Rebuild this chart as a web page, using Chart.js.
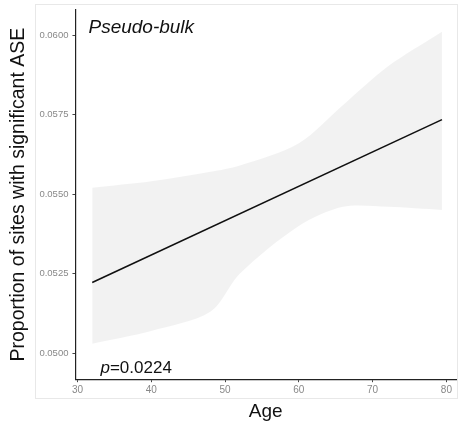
<!DOCTYPE html>
<html>
<head>
<meta charset="utf-8">
<script src="https://cdn.jsdelivr.net/npm/chart.js@4.4.1/dist/chart.umd.min.js"></script>
<style>
  html, body { margin: 0; padding: 0; background: #fff; }
  #wrap { position: relative; width: 458px; height: 424px; }
</style>
</head>
<body>
<div id="wrap"><canvas id="c" width="458" height="424"></canvas></div>
<script>
// ---- data ----
const fitAges = [32.0, 79.4];
const fitValues = [0.05222, 0.05734];

const bandAges  = [32.0, 40, 48, 52, 60, 66, 72, 79.4];
const bandUpper = [0.0552, 0.0554, 0.0557, 0.0559, 0.0566, 0.0578, 0.0590, 0.0601];
const bandLower = [0.0503, 0.0507, 0.0513, 0.0525, 0.0540, 0.0546, 0.0546, 0.0545];

const xTicks = [30, 40, 50, 60, 70, 80];
const yTicks = [0.0500, 0.0525, 0.0550, 0.0575, 0.0600];

const panelLabel = "Pseudo-bulk";
const pLabel = "0.0224";
const xTitle = "Age";
const yTitle = "Proportion of sites with significant ASE";

const FONT = '"Liberation Sans", Arial, sans-serif';
const toPts = (xs, ys) => xs.map((x, i) => ({ x: x, y: ys[i] }));

const framePlugin = {
  id: 'frame',
  beforeDraw(chart) {
    const ctx = chart.ctx;
    ctx.save();
    ctx.strokeStyle = '#e8e8e8';
    ctx.lineWidth = 1;
    ctx.strokeRect(35.5, 4.5, 422, 394);
    ctx.restore();
  },
  afterDraw(chart) {
    const ctx = chart.ctx;
    const a = chart.chartArea;
    ctx.save();
    ctx.fillStyle = '#111';
    ctx.textBaseline = 'alphabetic';
    ctx.font = 'italic 19px ' + FONT;
    ctx.fillText(panelLabel, a.left + 13, 33);
    ctx.font = 'italic 17px ' + FONT;
    ctx.fillText('p', a.left + 25, a.bottom - 6);
    const w = ctx.measureText('p').width;
    ctx.font = '17px ' + FONT;
    ctx.fillText('=' + pLabel, a.left + 25 + w, a.bottom - 6);
    ctx.restore();
  }
};

new Chart(document.getElementById('c'), {
  type: 'line',
  data: {
    datasets: [
      {
        label: 'upper',
        data: toPts(bandAges, bandUpper),
        borderWidth: 0,
        pointRadius: 0,
        tension: 0.3,
        fill: '+1',
        backgroundColor: 'rgba(0,0,0,0.05)'
      },
      {
        label: 'lower',
        data: toPts(bandAges, bandLower),
        borderWidth: 0,
        pointRadius: 0,
        tension: 0.3,
        fill: false
      },
      {
        label: 'fit',
        data: toPts(fitAges, fitValues),
        borderColor: '#111',
        borderWidth: 1.6,
        pointRadius: 0,
        fill: false
      }
    ]
  },
  plugins: [framePlugin],
  options: {
    responsive: false,
    animation: false,
    events: [],
    layout: { padding: { left: 7, top: 10, right: 2, bottom: 1 } },
    plugins: { legend: { display: false }, tooltip: { enabled: false } },
    scales: {
      x: {
        type: 'linear',
        min: 29.73,
        max: 81.3,
        afterBuildTicks: s => { s.ticks = xTicks.map(v => ({ value: v })); },
        grid: { display: true, drawOnChartArea: false, color: '#444', tickLength: 3 },
        border: { display: true, color: '#222', width: 1.2 },
        ticks: { color: '#888', font: { size: 10, family: FONT }, padding: 2, callback: v => String(v), maxRotation: 0 },
        title: { display: true, text: xTitle, color: '#111', font: { size: 19, family: FONT }, padding: { top: 2, bottom: 0 } }
      },
      y: {
        type: 'linear',
        min: 0.049182,
        max: 0.060786,
        afterBuildTicks: s => { s.ticks = yTicks.map(v => ({ value: v })); },
        grid: { display: true, drawOnChartArea: false, color: '#444', tickLength: 3 },
        border: { display: true, color: '#222', width: 1.2 },
        ticks: { color: '#888', font: { size: 9.5, family: FONT }, padding: 4, callback: v => Number(v).toFixed(4) },
        title: { display: true, text: yTitle, color: '#111', font: { size: 19.5, family: FONT }, padding: { top: 0, bottom: 5 } }
      }
    }
  }
});
</script>
</body>
</html>
